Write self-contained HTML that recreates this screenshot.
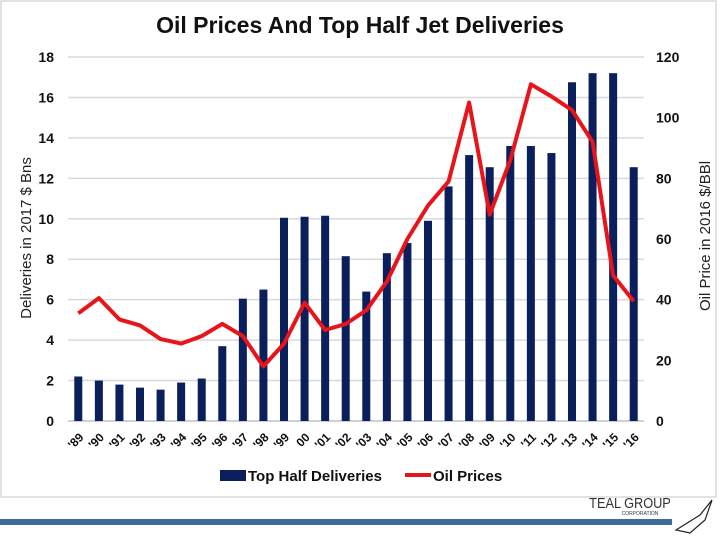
<!DOCTYPE html>
<html><head><meta charset="utf-8"><style>
html,body{margin:0;padding:0;background:#fff;}
svg{display:block;font-family:"Liberation Sans",Arial,sans-serif;}
</style></head><body>
<svg id="c" width="720" height="540" xmlns="http://www.w3.org/2000/svg">
<rect x="1" y="1" width="715" height="496" fill="#fff" stroke="#d9d9d9" stroke-width="1.5"/>
<text x="360" y="33" text-anchor="middle" font-size="23" font-weight="bold" fill="#111">Oil Prices And Top Half Jet Deliveries</text>
<g id="grid"></g><g id="bars"></g><g id="line"></g><g id="axes"></g>
<text transform="translate(31,238) rotate(-90)" text-anchor="middle" font-size="15" fill="#222">Deliveries in 2017 $ Bns</text>
<text transform="translate(710,236) rotate(-90)" text-anchor="middle" font-size="15" fill="#222">Oil Price in 2016 $/BBl</text>
<g>
<rect x="220" y="470" width="26" height="11" fill="#0a1f5c"/>
<text x="248" y="481" font-size="15" font-weight="bold" fill="#111">Top Half Deliveries</text>
<line x1="405" y1="475" x2="431" y2="475" stroke="#e8141b" stroke-width="4"/>
<text x="433" y="481" font-size="15" font-weight="bold" fill="#111">Oil Prices</text>
</g>
<rect x="0" y="519" width="672" height="6" fill="#3e6b98"/>
<text x="630" y="508" text-anchor="middle" font-size="15" fill="#333" transform="translate(630,0) scale(0.85,1) translate(-630,0)">TEAL GROUP</text>
<text x="640" y="515" text-anchor="middle" font-size="5" fill="#333">CORPORATION</text>
<path d="M676 530 L700 515 L712 500 L705 520 L690 533 Z" fill="none" stroke="#222" stroke-width="1.2"/>
</svg>
<script>
const years=["'89","'90","'91","'92","'93","'94","'95","'96","'97","'98","'99","00","'01","'02","'03","'04","'05","'06","'07","'08","'09","'10","'11","'12","'13","'14","'15","'16"];
const deliveries=[2.2,2.0,1.8,1.65,1.55,1.9,2.1,3.7,6.05,6.5,10.05,10.1,10.15,8.15,6.4,8.3,8.8,9.9,11.6,13.15,12.55,13.6,13.6,13.25,16.75,17.2,17.2,12.55];
const oil=[35.5,40.5,33.5,31.5,27,25.5,28,32,28,18,25.5,39,30,32,36.5,46,60,71,79,105,68,86,111,107,102.5,92,48,39.5];
const leftTicks=[0,2,4,6,8,10,12,14,16,18];
const rightTicks=[0,20,40,60,80,100,120];
const NS="http://www.w3.org/2000/svg";
const X0=68,X1=644,Y0=421,Y1=57;
const yL=v=>Y0-(v/18)*(Y0-Y1);
const yR=v=>Y0-(v/120)*(Y0-Y1);
const step=(X1-X0)/years.length;
const xC=i=>X0+step*(i+0.5);
function mk(t,p,a){const e=document.createElementNS(NS,t);for(const k in a)e.setAttribute(k,a[k]);p.appendChild(e);return e;}
const G=document.getElementById('grid'),B=document.getElementById('bars'),L=document.getElementById('line'),A=document.getElementById('axes');
leftTicks.forEach(v=>{
 const l=mk('line',G,{x1:X0,x2:X1,y1:yL(v),y2:yL(v),stroke:v===0?'#bfbfbf':'#d9d9d9','stroke-width':1.5});
 
 
 const t=mk('text',A,{x:54,y:yL(v)+5,'text-anchor':'end','font-size':14,'font-weight':'bold',fill:'#111'});
 t.textContent=v;
 
 
});
rightTicks.forEach(v=>{
 const t=mk('text',A,{x:656,y:yR(v)+5,'font-size':14,'font-weight':'bold',fill:'#111'});
 t.textContent=v;
 
 
});
deliveries.forEach((v,i)=>{
 const r=mk('rect',B,{x:xC(i)-4,y:yL(v),width:8,height:Y0-yL(v),fill:'#0a1f5c'});
 
 
});
const pts=oil.map((v,i)=>xC(i).toFixed(1)+','+yR(v).toFixed(1)).join(' ');
const pl=mk('polyline',L,{points:pts,fill:'none',stroke:'#e8141b','stroke-width':4,'stroke-linejoin':'round'});


years.forEach((y,i)=>{
 const t=mk('text',A,{transform:`translate(${xC(i)+6},${Y0+17}) rotate(-45)`,'text-anchor':'end','font-size':12,'font-weight':'bold',fill:'#111'});
 t.textContent=y;
 
 
});
</script>
</body></html>
